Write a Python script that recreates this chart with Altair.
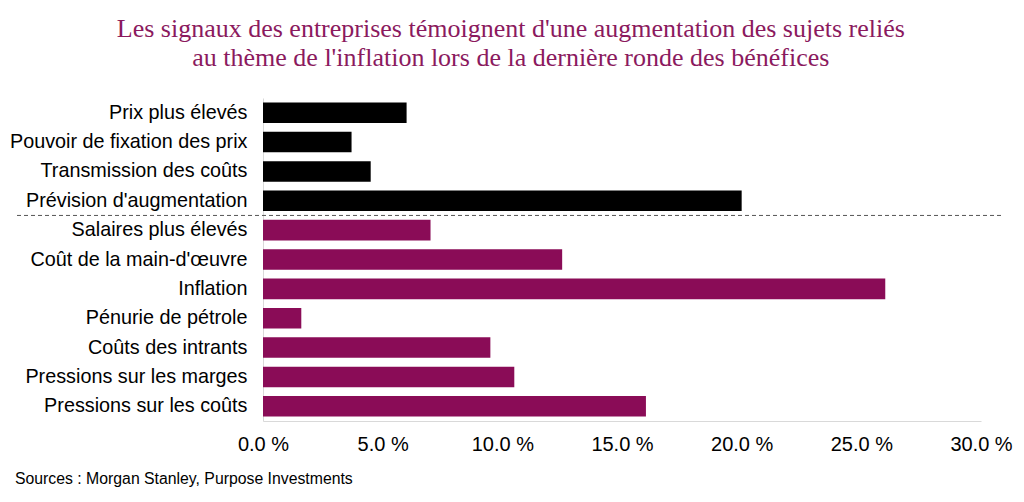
import altair as alt
import pandas as pd

categories = [
    "Prix plus élevés",
    "Pouvoir de fixation des prix",
    "Transmission des coûts",
    "Prévision d'augmentation",
    "Salaires plus élevés",
    "Coût de la main-d'œuvre",
    "Inflation",
    "Pénurie de pétrole",
    "Coûts des intrants",
    "Pressions sur les marges",
    "Pressions sur les coûts",
]
values = [6.0, 3.7, 4.5, 20.0, 7.0, 12.5, 26.0, 1.6, 9.5, 10.5, 16.0]
groups = ["prix"] * 4 + ["couts"] * 7
x_ticks = [0, 5, 10, 15, 20, 25, 30]

MAGENTA = "#8a0c57"
TITLE_COLOR = "#8b1a5e"

df = pd.DataFrame({"cat": categories, "val": values, "grp": groups})

y_enc = alt.Y(
    "cat:N",
    sort=categories,
    title=None,
    scale=alt.Scale(paddingInner=0.3, paddingOuter=0.15),
    axis=alt.Axis(
        labelFont="Liberation Sans",
        labelFontSize=19.8,
        labelColor="#000000",
        labelPadding=16,
        ticks=False,
        domainColor="#d9d9d9",
        labelLimit=400,
    ),
)

bars = (
    alt.Chart(df)
    .mark_bar()
    .encode(
        x=alt.X(
            "val:Q",
            title=None,
            scale=alt.Scale(domain=[0, 30], nice=False),
            axis=alt.Axis(
                values=x_ticks,
                labelExpr="format(datum.value, '.1f') + ' %'",
                labelFont="Liberation Sans",
                labelFontSize=20,
                labelColor="#000000",
                labelPadding=13,
                labelFlush=False,
                ticks=False,
                grid=False,
                domainColor="#d9d9d9",
            ),
        ),
        y=y_enc,
        color=alt.Color(
            "grp:N",
            scale=alt.Scale(domain=["prix", "couts"], range=["#000000", MAGENTA]),
            legend=None,
        ),
    )
)

sep = (
    alt.Chart(pd.DataFrame({"cat": ["Prévision d'augmentation"]}))
    .mark_rule(color="#555555", strokeWidth=1, strokeDash=[4, 3], yOffset=4.4)
    .encode(
        y=alt.Y("cat:N", sort=categories, bandPosition=1),
        x=alt.value(-246),
        x2=alt.value(740),
    )
)

source = (
    alt.Chart(pd.DataFrame({"t": ["Sources : Morgan Stanley, Purpose Investments"]}))
    .mark_text(align="left", baseline="middle", font="Liberation Sans", fontSize=15.8, color="#000000")
    .encode(text="t:N", x=alt.value(-248), y=alt.value(381))
)

chart = (
    alt.layer(bars, sep, source)
    .properties(
        width=718,
        height=323,
        autosize=alt.AutoSizeParams(type="none"),
        padding={"left": 263, "top": 98, "right": 43, "bottom": 81},
        title=alt.TitleParams(
            text=[
                "Les signaux des entreprises témoignent d'une augmentation des sujets reliés",
                "au thème de l'inflation lors de la dernière ronde des bénéfices",
            ],
            font="Liberation Serif",
            fontSize=26,
            fontWeight="normal",
            color=TITLE_COLOR,
            lineHeight=29,
            anchor="middle",
            frame="bounds",
            offset=27,
        ),
    )
    .configure_view(stroke=None)
)

chart.save("out.html", embed_options={"renderer": "svg", "actions": False})
